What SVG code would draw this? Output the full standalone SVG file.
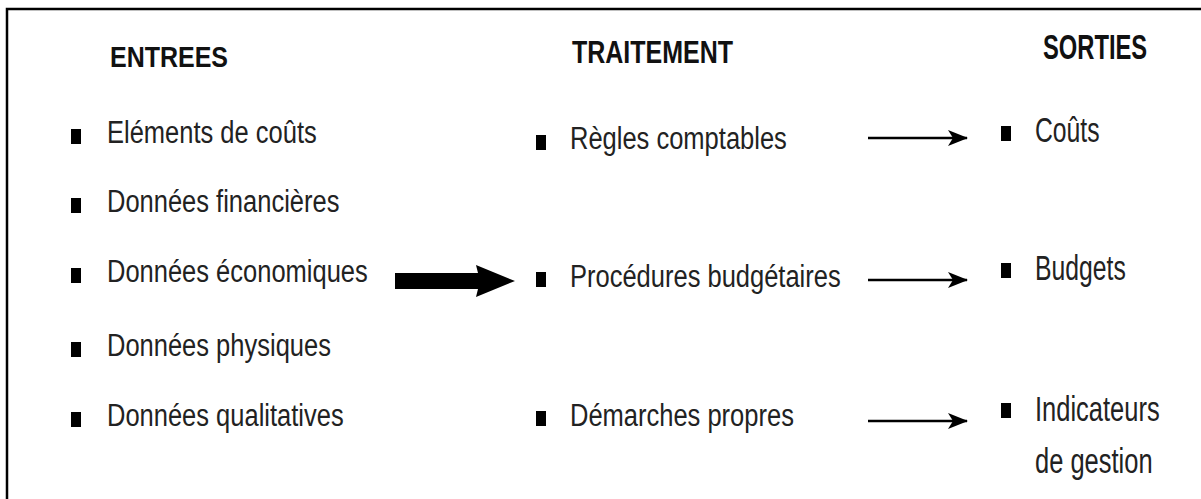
<svg xmlns="http://www.w3.org/2000/svg" width="1201" height="499" viewBox="0 0 1201 499">
  <style>
    .frame { stroke: #000; stroke-width: 2.5; fill: none; }
    .head { font-family: "Liberation Sans", Arial, sans-serif; font-weight: bold; font-size: 25px; fill: #111; }
    .item { font-family: "Liberation Sans", Arial, sans-serif; font-size: 25.5px; fill: #222; }
    .bullet { fill: #000; }
    .thin { stroke: #000; stroke-width: 2.5; fill: none; }
  </style>
  <defs>
    <marker id="head-thin" viewBox="0 0 20 16" refX="19" refY="8" markerWidth="20" markerHeight="16" markerUnits="userSpaceOnUse" orient="auto">
      <path d="M0,0 L20,8 L0,16 L5,8 Z" fill="#000"/>
    </marker>
  </defs>
  <rect width="1201" height="499" fill="#fff"/>

  <!-- open frame: top and left edges only -->
  <path class="frame" d="M7,499 L7,9 L1201,9"/>

  <!-- column headings -->
  <g id="heading-entrees"><text class="head" transform="translate(110,67) scale(1,1.18)">ENTREES</text></g>
  <g id="heading-traitement"><text class="head" transform="translate(572,63) scale(1,1.28)">TRAITEMENT</text></g>
  <g id="heading-sorties"><text class="head" transform="translate(1043,59) scale(0.95,1.4)">SORTIES</text></g>

  <!-- inputs -->
  <g id="in-elements"><rect class="bullet" x="71" y="129" width="10" height="15"/><text class="item" transform="translate(107,143) scale(1,1.2)">Eléments de coûts</text></g>
  <g id="in-financieres"><rect class="bullet" x="71" y="198" width="10" height="15"/><text class="item" transform="translate(107,212) scale(1,1.2)">Données financières</text></g>
  <g id="in-economiques"><rect class="bullet" x="71" y="268" width="10" height="15"/><text class="item" transform="translate(107,282) scale(1,1.2)">Données économiques</text></g>
  <g id="in-physiques"><rect class="bullet" x="71" y="342" width="10" height="15"/><text class="item" transform="translate(107,356) scale(1,1.2)">Données physiques</text></g>
  <g id="in-qualitatives"><rect class="bullet" x="71" y="412" width="10" height="15"/><text class="item" transform="translate(107,426) scale(1,1.2)">Données qualitatives</text></g>

  <!-- processing -->
  <g id="proc-regles"><rect class="bullet" x="536" y="135" width="10" height="15"/><text class="item" transform="translate(570,149) scale(1,1.25)">Règles comptables</text></g>
  <g id="proc-procedures"><rect class="bullet" x="536" y="272" width="10" height="15"/><text class="item" transform="translate(570,287) scale(1,1.25)">Procédures budgétaires</text></g>
  <g id="proc-demarches"><rect class="bullet" x="536" y="411" width="10" height="15"/><text class="item" transform="translate(570,426) scale(1,1.25)">Démarches propres</text></g>

  <!-- outputs -->
  <g id="out-couts"><rect class="bullet" x="1001" y="126" width="10" height="15"/><text class="item" transform="translate(1035,142) scale(0.97,1.35)">Coûts</text></g>
  <g id="out-budgets"><rect class="bullet" x="1001" y="263" width="10" height="15"/><text class="item" transform="translate(1035,280) scale(0.97,1.35)">Budgets</text></g>
  <g id="out-indicateurs"><rect class="bullet" x="1001" y="403" width="10" height="15"/><text class="item" transform="translate(1035,421) scale(1,1.35)">Indicateurs</text><text class="item" transform="translate(1035,473) scale(1,1.35)">de gestion</text></g>

  <!-- connectors -->
  <g id="connectors">
    <path d="M395,273 L478,273 L476,265 L515,281 L476,297 L478,289 L395,289 Z" fill="#000"/>
    <line class="thin" x1="868" y1="138" x2="967" y2="138" marker-end="url(#head-thin)"/>
    <line class="thin" x1="868" y1="280" x2="967" y2="280" marker-end="url(#head-thin)"/>
    <line class="thin" x1="868" y1="421" x2="967" y2="421" marker-end="url(#head-thin)"/>
  </g>
</svg>
